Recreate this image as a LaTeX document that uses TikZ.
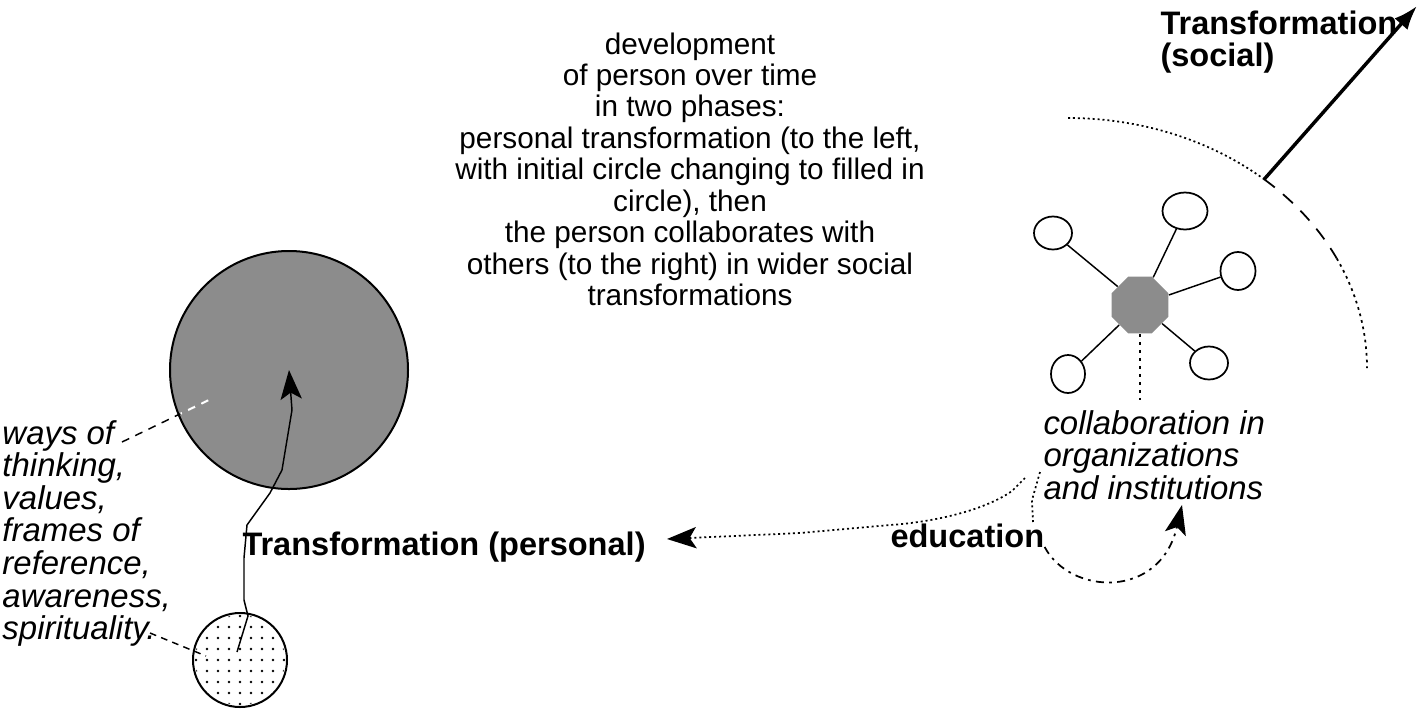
\documentclass[tikz,border=0pt]{standalone}
\usepackage{fontspec}
\setmainfont{Liberation Sans}
\usetikzlibrary{shapes.geometric,arrows.meta}

\tikzset{every picture/.style={line width=0.75pt}}
\tikzset{
  boldlabel/.style={inner sep=0pt, font=\fontsize{24.4}{24}\selectfont\bfseries, align=left},
  italiclabel/.style={inner sep=0pt, font=\fontsize{24.7}{24.4}\selectfont\itshape, align=left},
  member/.style={ellipse, draw, line width=1.3pt, fill=white, inner sep=0pt},
  fineline/.style={line width=1.1pt},
  dotline/.style={line width=1.3pt, dash pattern=on 1.5pt off 2.2pt},
  bigtip/.style={-{Stealth[length=22pt,width=16pt,inset=5pt]}},
}

\begin{document}
\begin{tikzpicture}[x=0.75pt,y=0.75pt,yscale=-1,xscale=1]
\useasboundingbox (0,0) rectangle (1422,708);

% Text Node
\node[anchor=north, inner sep=0pt, align=center, font=\fontsize{22.3}{23.6}\selectfont] (phases) at (690,32) {development\\of person over time\\in two phases:\\personal transformation (to the left,\\with initial circle changing to filled in\\circle), then\\the person collaborates with\\others (to the right) in wider social\\transformations};

%Shape: Circle
\node[circle, draw, line width=1.5pt, fill=black!45, minimum size=178.5pt, inner sep=0pt] (filled) at (289,370) {};
%Shape: Circle
\node[circle, draw, line width=1.5pt, fill=white, minimum size=70.5pt, inner sep=0pt] (initial) at (240,660) {};
\begin{scope}
\clip (initial.center) circle (45);
\foreach \i in {-4,...,4}
  \foreach \j in {-4,...,4}
    \fill (240+11*\i,660+11*\j) circle (1.3);
\end{scope}

%Curve Lines
\draw[fineline, bigtip] (initial.center) ++(-3,-8) -- (248,616) -- (244,600) -- (244,558) -- (247,525) -- (270,493) -- (282,470) -- (292,410) -- (filled.center);

% Text Node
\node[italiclabel, anchor=north west] (aspects) at (2,420) {ways of\\thinking,\\values,\\frames of\\reference,\\awareness,\\spirituality.};
\coordinate (waysend) at (122,442);
\coordinate (waysin) at (213,398);
\coordinate (spiritend) at (150,633);
\coordinate (spiritin) at (206,656);
\draw[fineline, dash pattern=on 6pt off 5pt] (waysend) -- (waysin);
\begin{scope}
\clip (filled.center) circle (117);
\draw[white, line width=1.6pt, dash pattern=on 6pt off 5pt] (waysend) -- (waysin);
\end{scope}
\draw[fineline, dash pattern=on 5pt off 4pt] (spiritend) -- (spiritin);

% Text Node
\node[boldlabel, anchor=base west] (personal) at (242,555) {Transformation (personal)};
% Text Node
\node[boldlabel, anchor=base west] (education) at (890,547) {education};
% Text Node
\node[boldlabel, anchor=north west] (social) at (1160,10) {Transformation\\(social)};
% Text Node
\node[italiclabel, anchor=north west] (collab) at (1043,410) {collaboration in\\organizations\\and institutions};

%Shape: Octagon and members
\node[regular polygon, regular polygon sides=8, fill=black!45, minimum size=46pt, inner sep=0pt] (hub) at (1140,305) {};
\node[member, minimum width=28.5pt, minimum height=24.75pt] (m1) at (1053,233) {};
\node[member, minimum width=33.75pt, minimum height=27.75pt] (m2) at (1185,211) {};
\node[member, minimum width=26.25pt, minimum height=28.5pt] (m3) at (1238,271) {};
\node[member, minimum width=28.5pt, minimum height=24.75pt] (m4) at (1209,363) {};
\node[member, minimum width=25.5pt, minimum height=28.5pt] (m5) at (1068,374) {};
\foreach \m in {m1,m2,m3,m4,m5}
  \draw[fineline] (hub) -- (\m);
\coordinate (hubfoot) at (1140,400);
\draw[line width=2pt, dash pattern=on 2pt off 4pt] (hub.south) -- (hubfoot);

%Arc: social boundary
\coordinate (arcstart) at (1068,118);
\draw[dotline] (arcstart) arc[start angle=-90, end angle=-49, x radius=299, y radius=250] coordinate (launch);
\draw[line width=1.3pt, dash pattern=on 10pt off 8pt] (launch) arc[start angle=-49, end angle=-26, x radius=299, y radius=250] coordinate (arcbend);
\draw[line width=1.3pt, dash pattern=on 2pt off 3pt] (arcbend) arc[start angle=-26, end angle=0, x radius=299, y radius=250];

%Straight Lines
\coordinate (socialtip) at (1417,6);
\draw[line width=2.6pt, -{Latex[length=18pt,width=13pt]}] (launch) -- (socialtip);

%Curve Lines
\coordinate (collabfoot) at (1025,478);
\coordinate (personaltip) at (667,539);
\draw[dotline, bigtip] (collabfoot) -- (1012,491) .. controls (985,510) and (935,522) .. (890,525) -- (800,533) -- (personaltip);
\draw[dotline] (1040,472) -- (1032,500) -- (1033,522);
\coordinate (loopend) at (1182,505);
\draw[line width=1.3pt, dash pattern=on 6pt off 4pt on 2pt off 4pt, bigtip] (education.base east) .. controls (1070,595) and (1160,600) .. (loopend);

\end{tikzpicture}
\end{document}
